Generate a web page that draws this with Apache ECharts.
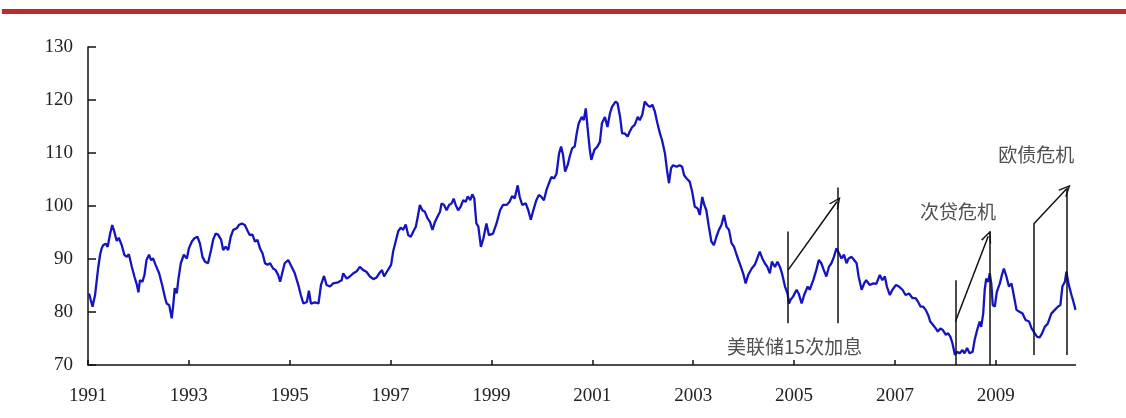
<!DOCTYPE html>
<html>
<head>
<meta charset="utf-8">
<style>
  html, body { margin: 0; padding: 0; background: #fff; }
  #chart { width: 1126px; height: 418px; }
</style>
<script src="https://cdn.jsdelivr.net/npm/echarts@6/dist/echarts.min.js"></script>
</head>
<body>
<div id="chart"></div>
<script>
// Index level, sampled through the period (decimal years)
const BASE_YEAR = 1991;
const years = [
  1991.02,1991.09,1991.14,1991.20,1991.24,1991.27,1991.30,1991.35,1991.39,1991.44,
  1991.48,1991.52,1991.57,1991.61,1991.67,1991.72,1991.77,1991.81,1991.87,1991.92,
  1991.97,1992.00,1992.03,1992.08,1992.12,1992.16,1992.21,1992.25,1992.29,1992.34,
  1992.41,1992.47,1992.53,1992.56,1992.61,1992.66,1992.69,1992.72,1992.76,1992.79,
  1992.84,1992.90,1992.96,1993.00,1993.06,1993.11,1993.17,1993.22,1993.27,1993.32,
  1993.38,1993.44,1993.48,1993.53,1993.58,1993.64,1993.68,1993.73,1993.78,1993.83,
  1993.88,1993.95,1993.99,1994.05,1994.11,1994.17,1994.21,1994.26,1994.31,1994.36,
  1994.41,1994.46,1994.51,1994.56,1994.61,1994.67,1994.72,1994.77,1994.81,1994.85,
  1994.90,1994.97,1995.04,1995.10,1995.17,1995.22,1995.27,1995.34,1995.38,1995.42,
  1995.50,1995.57,1995.62,1995.68,1995.73,1995.80,1995.86,1995.96,1996.03,1996.06,
  1996.13,1996.19,1996.26,1996.33,1996.39,1996.46,1996.52,1996.59,1996.66,1996.72,
  1996.79,1996.83,1996.87,1996.92,1997.01,1997.05,1997.10,1997.15,1997.20,1997.25,
  1997.30,1997.35,1997.40,1997.45,1997.50,1997.54,1997.58,1997.63,1997.68,1997.73,
  1997.78,1997.83,1997.88,1997.93,1997.98,1998.01,1998.06,1998.11,1998.16,1998.21,
  1998.25,1998.29,1998.34,1998.39,1998.44,1998.49,1998.53,1998.58,1998.62,1998.66,
  1998.70,1998.74,1998.79,1998.84,1998.90,1998.95,1999.03,1999.10,1999.17,1999.23,
  1999.30,1999.36,1999.41,1999.46,1999.52,1999.56,1999.61,1999.68,1999.73,1999.78,
  1999.83,1999.89,1999.94,1999.99,2000.04,2000.09,2000.14,2000.19,2000.24,2000.29,
  2000.34,2000.38,2000.42,2000.46,2000.51,2000.55,2000.60,2000.65,2000.69,2000.73,
  2000.79,2000.83,2000.87,2000.91,2000.95,2000.98,2001.04,2001.10,2001.15,2001.19,
  2001.25,2001.30,2001.35,2001.39,2001.46,2001.50,2001.55,2001.59,2001.64,2001.70,
  2001.74,2001.79,2001.84,2001.90,2001.94,2001.99,2002.04,2002.09,2002.14,2002.19,
  2002.24,2002.29,2002.34,2002.38,2002.44,2002.48,2002.52,2002.56,2002.60,2002.67,
  2002.73,2002.78,2002.82,2002.87,2002.93,2002.98,2003.03,2003.09,2003.13,2003.18,
  2003.22,2003.26,2003.31,2003.36,2003.41,2003.46,2003.51,2003.56,2003.61,2003.66,
  2003.71,2003.76,2003.81,2003.86,2003.92,2003.99,2004.04,2004.09,2004.16,2004.22,
  2004.27,2004.32,2004.37,2004.42,2004.47,2004.52,2004.56,2004.62,2004.67,2004.72,
  2004.76,2004.82,2004.87,2004.90,2004.93,2004.98,2005.05,2005.09,2005.15,2005.20,
  2005.27,2005.31,2005.38,2005.44,2005.49,2005.54,2005.59,2005.64,2005.69,2005.74,
  2005.79,2005.84,2005.89,2005.94,2005.99,2006.04,2006.08,2006.14,2006.19,2006.24,
  2006.28,2006.34,2006.39,2006.43,2006.50,2006.57,2006.63,2006.70,2006.75,2006.80,
  2006.84,2006.90,2006.95,2007.02,2007.08,2007.15,2007.21,2007.28,2007.35,2007.41,
  2007.46,2007.51,2007.56,2007.61,2007.66,2007.70,2007.76,2007.81,2007.85,2007.90,
  2007.95,2008.01,2008.05,2008.10,2008.14,2008.19,2008.23,2008.28,2008.34,2008.38,
  2008.43,2008.48,2008.54,2008.58,2008.63,2008.68,2008.71,2008.75,2008.78,2008.81,
  2008.85,2008.88,2008.91,2008.94,2008.98,2009.02,2009.08,2009.13,2009.16,2009.21,
  2009.26,2009.31,2009.35,2009.41,2009.46,2009.53,2009.59,2009.66,2009.71,2009.77,
  2009.82,2009.87,2009.92,2009.97,2010.03,2010.10,2010.17,2010.23,2010.28,2010.32,
  2010.37,2010.40,2010.44,2010.50,2010.54,2010.58
];
const values = [
  83.5,81.0,83.2,88.2,90.8,92.0,92.6,92.9,92.3,94.8,
  96.4,95.2,93.4,94.0,92.6,90.8,90.4,90.9,88.5,86.7,
  85.1,83.7,86.0,85.7,87.0,89.8,90.8,89.8,90.1,88.9,
  87.3,85.1,82.6,81.6,81.3,78.8,81.3,84.5,83.5,86.0,
  89.2,90.8,90.1,92.0,93.3,93.9,94.2,92.9,90.4,89.5,
  89.2,91.7,93.6,94.8,94.6,93.6,91.7,92.3,91.7,94.2,
  95.5,95.8,96.4,96.7,96.4,95.2,94.5,94.6,93.3,93.6,
  92.0,91.1,89.2,88.9,89.2,88.2,87.9,87.0,85.7,87.3,
  89.2,89.8,88.5,87.3,85.1,83.2,81.6,81.9,84.0,81.6,
  81.8,81.6,85.1,86.8,85.1,84.8,85.4,85.6,86.0,87.3,
  86.3,86.7,87.3,87.7,88.5,87.9,87.6,86.7,86.2,86.5,
  87.5,87.9,86.7,87.5,88.9,91.4,93.3,95.2,95.9,95.5,
  96.5,94.5,94.2,95.2,96.1,98.0,100.2,99.2,98.9,97.7,
  97.0,95.5,97.0,98.0,98.9,100.5,100.2,99.2,100.2,100.5,
  101.4,100.2,99.2,99.9,101.1,100.8,101.8,101.1,102.2,101.4,
  96.7,96.1,92.3,93.9,96.7,94.5,94.8,96.7,99.2,100.2,
  100.2,100.8,101.9,101.4,103.9,101.7,100.2,100.5,99.2,97.4,
  99.2,101.1,102.1,101.7,101.1,103.0,104.3,105.5,105.2,106.1,
  109.9,111.2,109.6,106.5,107.7,109.3,110.9,111.2,113.7,115.6,
  116.8,116.2,118.4,114.3,110.6,108.7,110.6,111.2,112.1,115.6,
  116.8,114.9,117.5,118.7,119.7,119.4,116.8,113.7,113.7,113.1,
  114.0,114.9,115.3,116.8,116.2,117.2,119.7,119.1,118.7,119.1,
  117.8,115.6,113.7,112.5,109.9,106.8,104.3,107.1,107.7,107.4,
  107.7,107.4,105.8,105.2,104.6,102.7,99.9,99.5,98.3,101.7,
  100.2,99.2,96.1,93.3,92.6,94.2,95.5,96.4,98.3,96.1,
  95.5,93.0,92.3,90.8,89.2,87.3,85.4,87.0,88.2,88.9,
  90.1,91.4,90.1,89.2,88.5,87.3,89.5,88.5,89.5,88.5,
  87.3,84.8,83.5,81.6,82.3,82.9,84.2,83.5,81.6,83.2,
  84.8,84.2,86.0,87.9,89.8,89.2,87.9,86.7,88.5,89.2,
  90.4,92.0,91.1,90.1,90.8,89.2,90.1,90.4,89.8,89.2,
  86.7,84.2,85.4,86.0,85.1,85.4,85.3,87.0,86.0,86.7,
  84.8,83.2,84.2,85.1,84.8,84.2,83.2,83.5,82.6,82.6,
  81.9,81.0,81.0,80.4,79.4,78.2,77.5,76.9,76.3,76.9,
  76.6,75.7,76.0,75.3,74.1,71.9,72.5,72.2,72.8,72.2,
  73.2,72.2,72.5,74.7,76.6,78.2,77.2,79.7,84.2,86.3,
  85.7,87.3,85.4,81.3,81.0,83.8,85.4,87.3,88.2,86.7,
  84.8,85.4,83.5,80.4,80.1,79.7,78.5,78.2,76.9,76.0,
  75.3,75.2,76.0,77.2,77.8,79.7,80.4,81.0,81.3,84.8,
  85.7,87.6,85.4,83.2,81.9,80.4
];

// Axis ticks
const yTicks = { min: 70, max: 130, step: 10 };
const yearStep = 2;

// Annotation strokes: vertical markers [year, top, bottom]
const markerBars = [
  [2004.88, 95.2, 77.9],
  [2005.87, 103.5, 77.9],
  [2008.20, 86.0, 70.0],
  [2008.87, 95.2, 70.0],
  [2009.75, 96.6, 71.9],
  [2010.40, 103.5, 71.9]
];
// Arrows: [[fromYear, fromValue], [toYear, toValue]]
const arrows = [
  [[2004.88, 87.9], [2005.85, 100.8]],
  [[2008.20, 78.2], [2008.85, 94.3]],
  [[2009.75, 96.6], [2010.40, 103.2]]
];
// Event notes: [text, year, value]
const notes = [
  ['美联储15次加息', 2005.01, 73.4],
  ['次贷危机', 2008.25, 98.9],
  ['欧债危机', 2009.80, 109.6]
];

const off = y => +(y - BASE_YEAR).toFixed(4);
const seriesData = years.map((y, i) => [off(y), values[i]]);
const xMax = off(years[years.length - 1]);

const chevron = 'path://M0,10 L5,0 L10,10 L8.6,10 L5,2.6 L1.4,10 Z';

const markLines = [];
markerBars.forEach(([yr, top, bot]) => {
  markLines.push([
    { coord: [off(yr), top], symbol: 'none' },
    { coord: [off(yr), bot], symbol: 'none' }
  ]);
});
arrows.forEach(([a, b]) => {
  markLines.push([
    { coord: [off(a[0]), a[1]], symbol: 'none' },
    { coord: [off(b[0]), b[1]], symbol: chevron, symbolSize: [11, 12] }
  ]);
});

const notePoints = notes.map(([t, yr, v]) => ({ name: t, coord: [off(yr), v] }));

const chart = echarts.init(document.getElementById('chart'), null, { renderer: 'canvas' });
chart.setOption({
  animation: false,
  backgroundColor: '#ffffff',
  grid: { left: 88, right: 50.5, top: 47, bottom: 53, containLabel: false },
  graphic: [{
    type: 'rect',
    left: 2, top: 9,
    shape: { width: 1124, height: 5 },
    style: { fill: '#c0282a' }
  }],
  xAxis: {
    type: 'value',
    min: 0,
    max: xMax,
    interval: yearStep,
    splitLine: { show: false },
    axisLine: { lineStyle: { color: '#111', width: 1.5 } },
    axisTick: { inside: true, length: 5, lineStyle: { color: '#111', width: 1.5 } },
    axisLabel: {
      margin: 22,
      color: '#222',
      fontFamily: 'Liberation Serif',
      fontSize: 19,
      showMaxLabel: false,
      formatter: v => String(BASE_YEAR + Math.round(v))
    }
  },
  yAxis: {
    type: 'value',
    min: yTicks.min,
    max: yTicks.max,
    interval: yTicks.step,
    splitLine: { show: false },
    axisLine: { show: true, lineStyle: { color: '#111', width: 1.5 } },
    axisTick: { show: true, inside: true, length: 8, lineStyle: { color: '#111', width: 1.5 } },
    axisLabel: {
      margin: 15,
      color: '#222',
      fontFamily: 'Liberation Serif',
      fontSize: 19
    }
  },
  series: [{
    type: 'line',
    data: seriesData,
    showSymbol: false,
    symbol: 'none',
    lineStyle: { color: '#1414c0', width: 2.3 },
    z: 3,
    markLine: {
      silent: true,
      symbol: 'none',
      label: { show: false },
      lineStyle: { color: '#111', width: 1.5, type: 'solid' },
      emphasis: { disabled: true },
      data: markLines
    },
    markPoint: {
      silent: true,
      symbol: 'circle',
      symbolSize: 0,
      label: {
        show: true,
        position: 'inside',
        formatter: p => p.name,
        color: '#505050',
        fontFamily: 'Noto Sans CJK SC',
        fontSize: 19
      },
      data: notePoints
    }
  }]
});
</script>
</body>
</html>
